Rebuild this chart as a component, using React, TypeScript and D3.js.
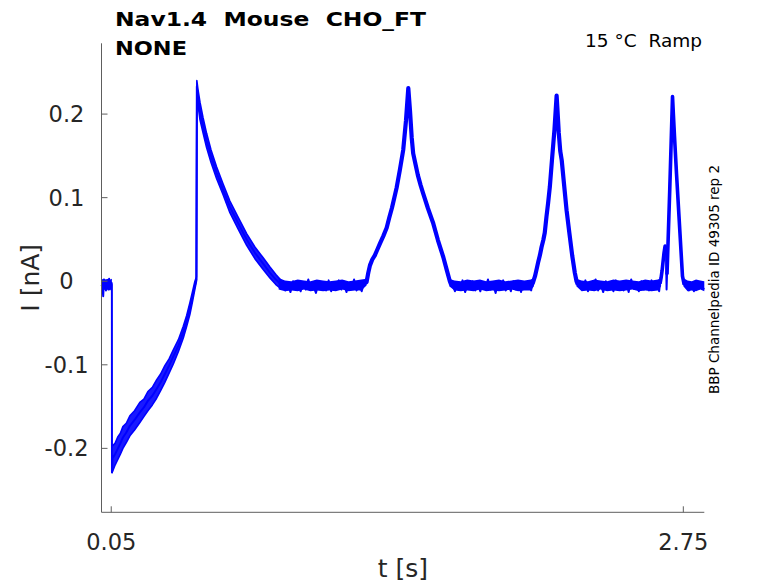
import { useRef, useEffect } from "react";
import * as d3 from "d3";

type Pt = [number, number]; // [t (s), I (nA)]
type Band = [number, number, number]; // [t, upper edge, lower edge] of the noise band

// Holding level before the ramp protocol starts
const preStep: Pt[] = [
  [0.004, -0.006], [0.008, -0.004], [0.012, -0.018], [0.016, 0.002], [0.019, -0.008],
  [0.022, -0.003], [0.025, -0.011], [0.028, 0.001], [0.031, -0.007], [0.034, -0.002],
  [0.037, -0.010], [0.040, 0.003], [0.043, -0.006], [0.046, -0.001], [0.049, -0.009],
  [0.052, -0.002], [0.053, -0.004], [0.0535, -0.229],
];

// First ramp + tail: the three reps spread apart here (hi / mid / lo)
const repT = [
  0.0557, 0.068, 0.0816, 0.093, 0.105, 0.121, 0.138, 0.16, 0.185, 0.204, 0.223, 0.244,
  0.264, 0.283, 0.303, 0.323, 0.343, 0.367, 0.39, 0.406, 0.421, 0.433, 0.445, 0.452,
  0.454, 0.459, 0.469, 0.483, 0.5, 0.521, 0.547, 0.577, 0.61, 0.648, 0.689, 0.728,
  0.767, 0.799, 0.827, 0.851,
];
const repHi = [
  -0.197, -0.194, -0.186, -0.182, -0.174, -0.17, -0.161, -0.155, -0.145, -0.141, -0.132, -0.127,
  -0.118, -0.111, -0.101, -0.093, -0.082, -0.07, -0.054, -0.041, -0.026, -0.013, 0.0, 0.005,
  0.24, 0.23, 0.214, 0.196, 0.177, 0.157, 0.137, 0.117, 0.096, 0.077, 0.057, 0.041,
  0.028, 0.017, 0.008, 0.001,
];
const repMid = [
  -0.212, -0.207, -0.2, -0.194, -0.187, -0.181, -0.173, -0.166, -0.157, -0.151, -0.143, -0.137,
  -0.129, -0.121, -0.111, -0.101, -0.09, -0.077, -0.061, -0.047, -0.033, -0.019, -0.005, 0.002,
  0.233, 0.221, 0.203, 0.187, 0.168, 0.15, 0.13, 0.11, 0.089, 0.07, 0.05, 0.034,
  0.021, 0.01, 0.002, -0.004,
];
const repLo = [
  -0.228, -0.22, -0.213, -0.207, -0.2, -0.193, -0.185, -0.178, -0.169, -0.162, -0.155, -0.148,
  -0.14, -0.131, -0.121, -0.11, -0.099, -0.084, -0.068, -0.054, -0.04, -0.025, -0.009, 0.0,
  0.226, 0.212, 0.193, 0.178, 0.16, 0.142, 0.123, 0.104, 0.082, 0.063, 0.043, 0.027,
  0.014, 0.004, -0.004, -0.009,
];

const base1: Pt[] = [
  [0.86, -0.002], [0.872, -0.011], [0.884, -0.004], [0.896, -0.013], [0.908, 0.0], [0.92, -0.009],
  [0.932, -0.005], [0.944, -0.012], [0.956, -0.001], [0.968, -0.01], [0.98, 0.002], [0.992, -0.008],
  [1.004, -0.006], [1.016, -0.014], [1.028, -0.002], [1.04, -0.009], [1.052, -0.003], [1.064, -0.011],
  [1.076, 0.001], [1.088, -0.012], [1.1, -0.004], [1.112, -0.008], [1.124, 0.001], [1.136, -0.01],
  [1.148, -0.002], [1.16, -0.013], [1.172, -0.003], [1.184, -0.009], [1.196, 0.002], [1.208, -0.011],
  [1.22, -0.004], [1.232, -0.012], [1.244, -0.001],
];
const peak2: Pt[] = [
  [1.248, -0.002], [1.255, -0.001], [1.263, 0.01], [1.271, 0.019], [1.282, 0.026], [1.294, 0.031],
  [1.306, 0.038], [1.318, 0.045], [1.334, 0.054], [1.35, 0.064], [1.362, 0.076], [1.375, 0.088],
  [1.386, 0.1], [1.397, 0.112], [1.412, 0.133], [1.428, 0.157], [1.441, 0.192], [1.452, 0.231],
  [1.46, 0.204], [1.468, 0.172], [1.475, 0.153], [1.486, 0.14], [1.497, 0.127], [1.51, 0.115],
  [1.522, 0.105], [1.545, 0.087], [1.57, 0.069], [1.592, 0.049], [1.617, 0.029], [1.634, 0.013],
  [1.648, 0.0], [1.654, -0.004],
];
const base2: Pt[] = [
  [1.66, -0.003], [1.672, -0.012], [1.684, -0.001], [1.696, -0.01], [1.708, 0.001], [1.72, -0.013],
  [1.732, -0.004], [1.744, -0.009], [1.756, 0.0], [1.768, -0.011], [1.78, -0.005], [1.792, -0.012],
  [1.804, -0.002], [1.816, -0.008], [1.828, 0.002], [1.84, -0.01], [1.852, -0.003], [1.864, -0.014],
  [1.876, -0.001], [1.888, -0.009], [1.9, 0.001], [1.912, -0.011], [1.924, -0.004], [1.936, -0.012],
  [1.948, 0.0], [1.96, -0.01], [1.972, -0.002], [1.984, -0.013], [1.996, -0.001], [2.008, -0.009],
  [2.02, -0.004], [2.032, -0.011],
];
const peak3: Pt[] = [
  [2.036, -0.004], [2.04, -0.002], [2.05, 0.006], [2.059, 0.016], [2.066, 0.024], [2.073, 0.031],
  [2.081, 0.041], [2.089, 0.049], [2.096, 0.058], [2.104, 0.077], [2.112, 0.094], [2.12, 0.113],
  [2.13, 0.145], [2.142, 0.182], [2.152, 0.222], [2.156, 0.205], [2.162, 0.178], [2.169, 0.156],
  [2.176, 0.145], [2.187, 0.116], [2.199, 0.085], [2.212, 0.058], [2.226, 0.03], [2.238, 0.01],
  [2.246, 0.0], [2.252, -0.004],
];
const base3: Pt[] = [
  [2.264, -0.002], [2.276, -0.01], [2.288, 0.001], [2.3, -0.012], [2.312, -0.003], [2.324, -0.009],
  [2.336, 0.002], [2.348, -0.011], [2.36, -0.004], [2.372, -0.013], [2.384, 0.0], [2.396, -0.008],
  [2.408, -0.002], [2.42, -0.012], [2.432, 0.001], [2.444, -0.01], [2.456, -0.005], [2.468, -0.011],
  [2.48, -0.001], [2.492, -0.013], [2.504, 0.002], [2.516, -0.009], [2.528, -0.003], [2.54, -0.012],
  [2.552, 0.0], [2.564, -0.01], [2.576, -0.004], [2.588, -0.011], [2.6, 0.001], [2.612, -0.009],
  [2.624, -0.002], [2.636, -0.012],
];
const peak4: Pt[] = [
  [2.64, -0.003], [2.645, 0.004], [2.65, 0.013], [2.655, 0.025], [2.659, 0.034], [2.664, 0.042],
  [2.668, 0.037], [2.671, -0.01], [2.673, 0.008], [2.686, 0.11], [2.699, 0.221], [2.703, 0.2],
  [2.708, 0.175], [2.718, 0.128], [2.729, 0.08], [2.74, 0.032], [2.746, 0.006], [2.754, -0.004],
];
const base4: Pt[] = [
  [2.764, -0.001], [2.776, -0.011], [2.788, -0.003], [2.8, -0.012], [2.812, 0.0], [2.824, -0.009],
  [2.836, -0.005], [2.848, -0.01],
];

// Solid core of the overlapping baseline noise
const bandPre: Band[] = [
  [0.004, 0.002, -0.012], [0.015, 0.003, -0.01], [0.025, 0.002, -0.011],
  [0.035, 0.003, -0.01], [0.045, 0.002, -0.011], [0.053, 0.003, -0.008],
];
const bandA: Band[] = [
  [0.84, 0.004, -0.01], [0.87, 0.001, -0.012], [0.9, 0.0, -0.011], [0.93, 0.002, -0.012],
  [0.96, 0.001, -0.01], [0.99, 0.0, -0.012], [1.02, 0.002, -0.011], [1.05, 0.001, -0.012],
  [1.08, 0.0, -0.011], [1.11, 0.001, -0.012], [1.14, 0.002, -0.01], [1.17, 0.0, -0.012],
  [1.2, 0.001, -0.011], [1.23, 0.002, -0.011], [1.255, 0.003, -0.005],
];
const bandB: Band[] = [
  [1.645, 0.003, -0.006], [1.67, 0.001, -0.011], [1.7, 0.0, -0.012], [1.73, 0.002, -0.011],
  [1.76, 0.001, -0.012], [1.79, 0.002, -0.01], [1.82, 0.0, -0.012], [1.85, 0.001, -0.011],
  [1.88, 0.002, -0.012], [1.91, 0.0, -0.011], [1.94, 0.001, -0.01], [1.97, 0.002, -0.012],
  [2.0, 0.001, -0.011], [2.03, 0.002, -0.011], [2.045, 0.004, -0.006],
];
const bandC: Band[] = [
  [2.245, 0.003, -0.006], [2.27, 0.001, -0.012], [2.3, 0.0, -0.011], [2.33, 0.002, -0.012],
  [2.36, 0.001, -0.01], [2.39, 0.0, -0.012], [2.42, 0.002, -0.011], [2.45, 0.001, -0.012],
  [2.48, 0.002, -0.011], [2.51, 0.001, -0.01], [2.54, 0.0, -0.012], [2.57, 0.002, -0.011],
  [2.6, 0.001, -0.012], [2.63, 0.002, -0.011], [2.645, 0.004, -0.006],
];
const bandD: Band[] = [
  [2.75, 0.004, -0.006], [2.77, 0.001, -0.012], [2.79, 0.0, -0.011],
  [2.81, 0.002, -0.012], [2.83, 0.001, -0.01], [2.849, 0.0, -0.012],
];

const xTicks = [0.05, 2.75];
const yTicks = [-0.2, -0.1, 0, 0.1, 0.2];
const xDomain: [number, number] = [0.004, 2.849];
const yDomain: [number, number] = [-0.2765, 0.2847];

const titleLines = ["Nav1.4  Mouse  CHO_FT", "NONE"];
const condition = "15 °C  Ramp";
const sideNote = "BBP Channelpedia ID 49305 rep 2";

export default function App() {
  const svgRef = useRef<SVGSVGElement>(null);
  const W = 778;
  const H = 583;

  useEffect(() => {
    if (!svgRef.current) return;
    const svg = d3.select(svgRef.current);
    svg.selectAll("*").remove();

    const m = { top: 43.3, right: 73.7, bottom: 70.7, left: 101.5 };
    const iW = W - m.left - m.right;
    const iH = H - m.top - m.bottom;
    const font = "'DejaVu Sans', sans-serif";
    const ink = "#262626";
    const blue = "#0000ff";

    const g = svg.append("g").attr("transform", `translate(${m.left},${m.top})`);
    const x = d3.scaleLinear().domain(xDomain).range([0, iW]);
    const y = d3.scaleLinear().domain(yDomain).range([iH, 0]);

    const line = d3.line<Pt>().x(d => x(d[0])).y(d => y(d[1]));
    const zip = (vals: number[]): Pt[] => repT.map((t, i) => [t, vals[i]]);

    // Noise bands of the baseline
    const bandArea = d3.area<Band>().x(d => x(d[0])).y0(d => y(d[2])).y1(d => y(d[1]));
    [bandPre, bandA, bandB, bandC, bandD].forEach(b => {
      g.append("path").datum(b).attr("fill", blue).attr("d", bandArea);
    });

    // Spread of the reps on the first ramp and its tail
    const spread = d3.area<number>()
      .x((_, i) => x(repT[i]))
      .y0((_, i) => y(repLo[i]))
      .y1((_, i) => y(repHi[i]));
    g.append("path").datum(repT).attr("fill", blue).attr("opacity", 0.9).attr("d", spread);

    [repHi, repLo].forEach(vals => {
      g.append("path").datum(zip(vals))
        .attr("fill", "none").attr("stroke", blue).attr("stroke-width", 1.6)
        .attr("stroke-linejoin", "round").attr("d", line);
    });

    const mainTrace: Pt[] = [
      ...preStep, ...zip(repMid), ...base1, ...peak2, ...base2,
      ...peak3, ...base3, ...peak4, ...base4,
    ];
    g.append("path").datum(mainTrace)
      .attr("fill", "none").attr("stroke", blue).attr("stroke-width", 2)
      .attr("stroke-linejoin", "round").attr("d", line);

    // later peaks: reps overlap into a thicker stroke
    [peak2, peak3].forEach(p => {
      g.append("path").datum(p)
        .attr("fill", "none").attr("stroke", blue).attr("stroke-width", 4.2)
        .attr("stroke-linejoin", "round").attr("d", line);
    });
    g.append("path").datum(peak4.slice(8))
      .attr("fill", "none").attr("stroke", blue).attr("stroke-width", 3.6)
      .attr("stroke-linejoin", "round").attr("d", line);
    g.append("path").datum(peak4.slice(0, 7))
      .attr("fill", "none").attr("stroke", blue).attr("stroke-width", 3.6)
      .attr("stroke-linejoin", "round").attr("d", line);

    // Axes (box off, ticks inward)
    const axisCol = "#5e5e5e";
    g.append("line").attr("x1", 0).attr("x2", 0).attr("y1", 0).attr("y2", iH)
      .attr("stroke", axisCol).attr("stroke-width", 1);
    g.append("line").attr("x1", 0).attr("x2", iW).attr("y1", iH).attr("y2", iH)
      .attr("stroke", axisCol).attr("stroke-width", 1);

    yTicks.forEach(v => {
      g.append("line").attr("x1", 0).attr("x2", 6).attr("y1", y(v)).attr("y2", y(v))
        .attr("stroke", axisCol);
      g.append("text").attr("x", -35).attr("y", y(v)).attr("dy", "0.36em")
        .attr("text-anchor", "middle").attr("font-family", font).attr("font-size", 22.5)
        .attr("fill", ink).text(String(v));
    });
    xTicks.forEach(v => {
      g.append("line").attr("x1", x(v)).attr("x2", x(v)).attr("y1", iH).attr("y2", iH - 6)
        .attr("stroke", axisCol);
      g.append("text").attr("x", x(v)).attr("y", iH + 38)
        .attr("text-anchor", "middle").attr("font-family", font).attr("font-size", 22.5)
        .attr("fill", ink).text(String(v));
    });

    // Axis labels
    svg.append("text").attr("x", m.left + iW / 2).attr("y", 577)
      .attr("text-anchor", "middle").attr("font-family", font).attr("font-size", 25)
      .attr("fill", ink).text("t [s]");
    svg.append("text").attr("transform", `translate(39,${m.top + iH / 2}) rotate(-90)`)
      .attr("text-anchor", "middle").attr("font-family", font).attr("font-size", 25)
      .attr("fill", ink).text("I [nA]");

    // Title + annotations
    svg.append("text").attr("x", 115).attr("y", 26).attr("font-family", font)
      .attr("font-size", 20).attr("font-weight", "bold").attr("fill", "#000")
      .style("white-space", "pre")
      .attr("textLength", 311).attr("lengthAdjust", "spacingAndGlyphs").text(titleLines[0]);
    svg.append("text").attr("x", 115).attr("y", 55).attr("font-family", font)
      .attr("font-size", 20).attr("font-weight", "bold").attr("fill", "#000")
      .attr("textLength", 72).attr("lengthAdjust", "spacingAndGlyphs").text(titleLines[1]);
    svg.append("text").attr("x", 702).attr("y", 47.3).attr("text-anchor", "end")
      .style("white-space", "pre")
      .attr("font-family", font).attr("font-size", 18.5).attr("fill", "#000").text(condition);
    svg.append("text").attr("transform", "translate(719,279.5) rotate(-90)")
      .attr("text-anchor", "middle").attr("font-family", font).attr("font-size", 13.5)
      .attr("fill", "#000").text(sideNote);
  }, []);

  return (
    <svg ref={svgRef} width={W} height={H}
      style={{ position: "absolute", left: 0, top: 0, background: "#fff" }} />
  );
}
